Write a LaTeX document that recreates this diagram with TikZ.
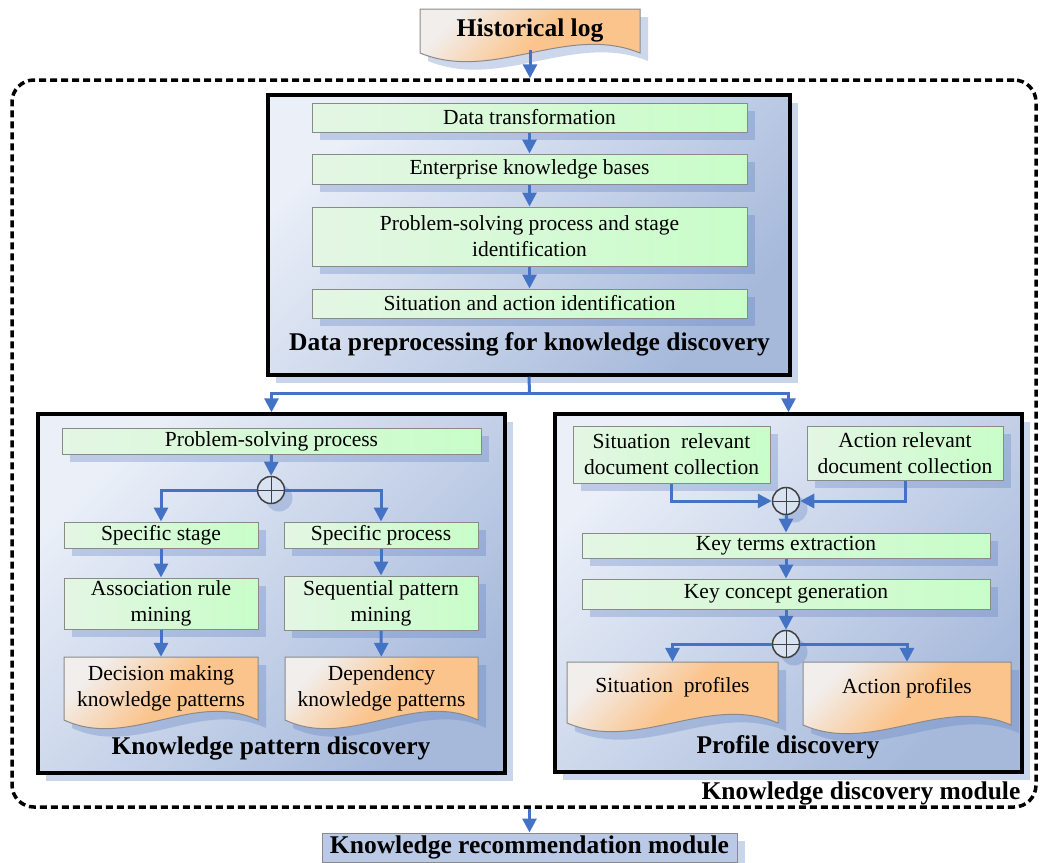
\documentclass[tikz,border=0pt]{standalone}
\usepackage{fontspec}
\setmainfont{Liberation Serif}
\usetikzlibrary{arrows.meta,shadows}
\definecolor{flowblue}{HTML}{4472C4}
\definecolor{boxgray}{HTML}{8A8A8A}
\definecolor{greenL}{HTML}{E4F6E4}
\definecolor{greenR}{HTML}{C8FDC8}
\definecolor{blueL}{HTML}{EAEFF8}
\definecolor{blueR}{HTML}{A6B9DB}
\definecolor{orangeL}{HTML}{F2EEEC}
\definecolor{orangeR}{HTML}{FBC48C}
\definecolor{recblue}{HTML}{B9C9E6}
\definecolor{shadeblue}{HTML}{5A7BBF}
\definecolor{paleblue}{HTML}{C9D5EB}
\definecolor{mergegray}{HTML}{404040}
\newcommand{\bodyfont}{\fontsize{21.5}{26}\selectfont}
\newcommand{\headfont}{\fontsize{25.5}{30}\selectfont\bfseries}
\newcommand{\docshape}[4]{%
  \path[docpaper] (#1,#2) -- (#3,#2) -- (#3,#4)
    .. controls ({#3-(#3-#1)/3},{#4-30}) and ({#1+(#3-#1)/3},{#4+30}) .. (#1,#4) -- cycle ;}
\begin{document}
\begin{tikzpicture}[x=1pt,y=-1pt,
	smallshad/.style={drop shadow={shadow xshift=8pt,shadow yshift=-8pt,fill=shadeblue,opacity=0.3}},
	bigshad/.style={drop shadow={shadow xshift=8pt,shadow yshift=-8pt,fill=paleblue,opacity=1}},
	flow/.style={-{Triangle[length=14pt,width=14pt]},draw=flowblue,line width=3pt},
	link/.style={draw=flowblue,line width=3pt},
	module/.style={draw=black,line width=3.5pt,top color=blueL,bottom color=blueR,shading angle=45,bigshad},
	modbox/.style={draw=black,line width=3.5pt,dash pattern=on 7pt off 4pt,rounded corners=22pt},
	stepbox/.style={draw=boxgray,line width=1pt,left color=greenL,right color=greenR,font=\bodyfont,align=center,inner sep=0pt,smallshad},
	docpaper/.style={draw=boxgray,line width=1pt,top color=orangeL,bottom color=orangeR,middle color=orangeR,shading angle=45,smallshad},
	doctext/.style={font=\bodyfont,align=center,inner sep=0pt},
	merge/.style={circle,draw=mergegray,line width=1.5pt,fill=paleblue!70!white,minimum size=27pt,inner sep=0pt,smallshad,
		path picture={\draw[mergegray,line width=1pt] (path picture bounding box.north)--(path picture bounding box.south)
		(path picture bounding box.west)--(path picture bounding box.east);}},
	headline/.style={font=\headfont,inner sep=0pt},
	recbox/.style={draw=boxgray,line width=1pt,fill=recblue,font=\headfont,inner sep=0pt,bigshad}]
	\useasboundingbox (0,0) rectangle (1041,862) ;
	\node[modbox,minimum width=1024pt,minimum height=727pt] (kdm) at (524,443.5) {} ;
	\node[headline] (kdmt) at (861,793) {Knowledge discovery module} ;
	\node[module,minimum width=522pt,minimum height=280pt] (prep) at (529,235) {} ;
	\node[module,minimum width=467pt,minimum height=359pt] (kpd) at (271.5,593.5) {} ;
	\node[module,minimum width=467pt,minimum height=358pt] (pd) at (788.5,593) {} ;
	\node[headline] (prept) at (529.5,344) {Data preprocessing for knowledge discovery} ;
	\node[headline] (kpdt) at (271,748) {Knowledge pattern discovery} ;
	\node[headline] (pdt) at (788,747) {Profile discovery} ;
	\docshape{420}{9}{640}{53}
	\node[doctext,font=\headfont,minimum width=220pt,minimum height=40pt] (hist) at (530,30) {Historical log} ;
	\node[stepbox,minimum width=435pt,minimum height=29pt] (dt) at (529.5,117.5) {Data transformation} ;
	\node[stepbox,minimum width=435pt,minimum height=30pt] (ekb) at (529.5,169) {Enterprise knowledge bases} ;
	\node[stepbox,minimum width=435pt,minimum height=59pt] (pss) at (529.5,236.5) {Problem-solving process and stage\\identification} ;
	\node[stepbox,minimum width=435pt,minimum height=29pt] (sai) at (529.5,303.5) {Situation and action identification} ;
	\node[stepbox,minimum width=419pt,minimum height=26pt] (psp) at (271.5,441) {Problem-solving process} ;
	\node[merge] (mergeA) at (271,490) {} ;
	\node[stepbox,minimum width=194pt,minimum height=26pt] (ss) at (161,535) {Specific stage} ;
	\node[stepbox,minimum width=194pt,minimum height=26pt] (sp) at (381,535) {Specific process} ;
	\node[stepbox,minimum width=194pt,minimum height=51pt] (arm) at (161,603.5) {Association rule\\mining} ;
	\node[stepbox,minimum width=194pt,minimum height=54pt] (spm) at (381,603) {Sequential pattern\\mining} ;
	\docshape{64}{657}{258}{720}
	\node[doctext,minimum width=194pt,minimum height=63pt] (dmk) at (161,688.5) {Decision making\\knowledge patterns} ;
	\docshape{285}{657}{478}{720}
	\node[doctext,minimum width=193pt,minimum height=63pt] (dkp) at (381.5,688.5) {Dependency\\knowledge patterns} ;
	\node[stepbox,minimum width=197pt,minimum height=57pt] (sit) at (671.5,454.5) {Situation\ \ relevant\\document collection} ;
	\node[stepbox,minimum width=196pt,minimum height=54pt] (act) at (905,453) {Action relevant\\document collection} ;
	\node[merge] (mergeB) at (786,501) {} ;
	\node[stepbox,minimum width=408pt,minimum height=25pt] (kte) at (786,545.5) {Key terms extraction} ;
	\node[stepbox,minimum width=408pt,minimum height=30pt] (kcg) at (786,594) {Key concept generation} ;
	\node[merge] (mergeC) at (786,644) {} ;
	\docshape{567}{662}{778}{723}
	\node[doctext,minimum width=211pt,minimum height=51pt] (sprof) at (672.5,687.5) {Situation\ \ profiles} ;
	\docshape{803}{662}{1011}{725}
	\node[doctext,minimum width=208pt,minimum height=53pt] (aprof) at (907,688.5) {Action profiles} ;
	\node[recbox,minimum width=415pt,minimum height=29pt] (krm) at (529.5,847.5) {Knowledge recommendation module} ;
	\coordinate (split) at (529.5,393) ;
	\draw[flow] (hist.south) -- (hist.south |- kdm.north) ;
	\draw[flow] (dt) -- (ekb) ;
	\draw[flow] (ekb) -- (pss) ;
	\draw[flow] (pss) -- (sai) ;
	\draw[link] (prep.south) -- (split) ;
	\draw[flow] (split) -| (kpd.north) ;
	\draw[flow] (split) -| (pd.north) ;
	\draw[flow] (psp) -- (mergeA) ;
	\draw[flow] (mergeA.west) -| (ss.north) ;
	\draw[flow] (mergeA.east) -| (sp.north) ;
	\draw[flow] (ss) -- (arm) ;
	\draw[flow] (sp) -- (spm) ;
	\draw[flow] (arm) -- (dmk) ;
	\draw[flow] (spm) -- (dkp) ;
	\draw[flow] (sit.south) |- (mergeB.west) ;
	\draw[flow] (act.south) |- (mergeB.east) ;
	\draw[flow] (mergeB) -- (kte) ;
	\draw[flow] (kte) -- (kcg) ;
	\draw[flow] (kcg) -- (mergeC) ;
	\draw[flow] (mergeC.west) -| (sprof.north) ;
	\draw[flow] (mergeC.east) -| (aprof.north) ;
	\draw[flow] (krm.north |- kdm.south) -- (krm.north) ;
\end{tikzpicture}
\end{document}
